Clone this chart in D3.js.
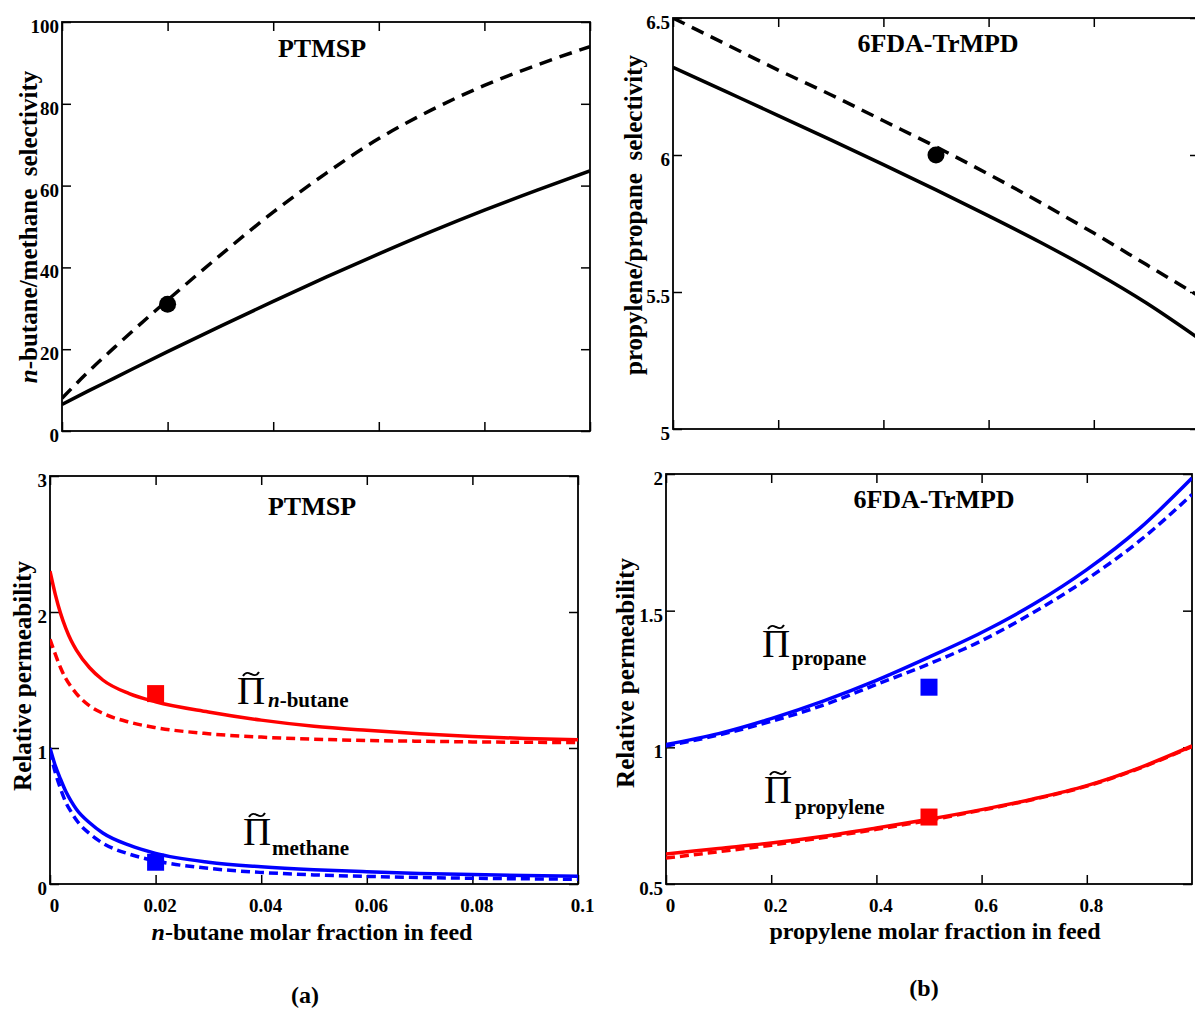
<!DOCTYPE html>
<html>
<head>
<meta charset="utf-8">
<script src="https://cdn.jsdelivr.net/npm/d3@7"></script>
<style>
  body { margin: 0; background: #fff; }
  svg { display: block; font-family: "Liberation Serif", "Times New Roman", serif; font-weight: bold; }
</style>
</head>
<body>
<div id="chart"></div>
<script>
// (a) top: n-butane/methane selectivity in PTMSP
var butFracSel = [0, 0.005, 0.01, 0.02, 0.03, 0.04, 0.05, 0.06, 0.07, 0.08, 0.09, 0.1];
var butSelDashed = [8, 14.5, 20.5, 32, 43, 53.5, 63, 71.5, 78.5, 84.5, 89.5, 94];
var butSelSolid = [6.5, 9.8, 13.0, 19.4, 25.6, 31.7, 37.6, 43.3, 48.8, 54.0, 58.9, 63.6];
var butSelExpX = [0.02];
var butSelExpY = [31];

// (b) top: propylene/propane selectivity in 6FDA-TrMPD
var propFracSel = [0, 0.1, 0.2, 0.3, 0.4, 0.5, 0.6, 0.7, 0.8, 0.9, 1.0];
var propSelDashed = [6.5, 6.405, 6.31, 6.22, 6.125, 6.03, 5.93, 5.825, 5.715, 5.6, 5.485];
var propSelSolid = [6.32, 6.232, 6.144, 6.055, 5.965, 5.873, 5.778, 5.68, 5.575, 5.46, 5.33];
var propSelExpX = [0.5];
var propSelExpY = [6.0];

// (a) bottom: relative permeability in PTMSP
var butFrac = [0, 0.001, 0.002, 0.003, 0.004, 0.005, 0.0075, 0.01, 0.015, 0.02, 0.03, 0.04, 0.05, 0.06, 0.07, 0.08, 0.09, 0.1];
var butPermSolid = [2.3, 2.13, 1.99, 1.88, 1.79, 1.72, 1.59, 1.5, 1.4, 1.34, 1.265, 1.205, 1.16, 1.13, 1.105, 1.085, 1.07, 1.06];
var butPermDashed = [1.8, 1.69, 1.59, 1.51, 1.45, 1.4, 1.31, 1.255, 1.19, 1.15, 1.105, 1.08, 1.065, 1.055, 1.05, 1.045, 1.042, 1.04];
var methPermSolid = [1.0, 0.87, 0.77, 0.68, 0.61, 0.55, 0.45, 0.375, 0.285, 0.225, 0.16, 0.127, 0.105, 0.09, 0.078, 0.069, 0.062, 0.057];
var methPermDashed = [0.98, 0.82, 0.7, 0.6, 0.53, 0.47, 0.37, 0.3, 0.22, 0.17, 0.115, 0.085, 0.067, 0.056, 0.048, 0.042, 0.038, 0.035];
var butPermExpX = [0.02];
var butPermExpRed = [1.40];
var butPermExpBlue = [0.16];

// (b) bottom: relative permeability in 6FDA-TrMPD
var propFrac = [0, 0.1, 0.2, 0.3, 0.4, 0.5, 0.6, 0.7, 0.8, 0.9, 1.0];
var propanePermSolid = [1.01, 1.05, 1.105, 1.17, 1.245, 1.33, 1.42, 1.525, 1.65, 1.8, 1.985];
var propanePermDashed = [1.005, 1.045, 1.095, 1.155, 1.23, 1.305, 1.39, 1.495, 1.615, 1.755, 1.925];
var propylenePermSolid = [0.61, 0.63, 0.65, 0.675, 0.705, 0.737, 0.772, 0.812, 0.86, 0.925, 1.005];
var propylenePermDashed = [0.595, 0.618, 0.642, 0.67, 0.7, 0.733, 0.77, 0.81, 0.858, 0.923, 1.003];
var propPermExpX = [0.5];
var propPermExpPropane = [1.22];
var propPermExpPropylene = [0.745];

// tick values / labels
var butTicks = [0, 0.02, 0.04, 0.06, 0.08, 0.1];
var propTicks = [0, 0.2, 0.4, 0.6, 0.8];
var butSelTicks = [0, 20, 40, 60, 80, 100];
var propSelTicks = [5, 5.5, 6, 6.5];
var butPermTicks = [0, 1, 2, 3];
var propPermTicks = [0.5, 1, 1.5, 2];

var RED = '#ff0000';
var BLUE = '#0000ff';

var svg = d3.select('#chart')
            .append('svg')
            .attr('width', 1195)
            .attr('height', 1010);

var line = function (x, y) {
  return d3.line()
           .x(function (d) { return x(d[0]); })
           .y(function (d) { return y(d[1]); })
           .curve(d3.curveMonotoneX);
};

function plainAxis(g) {
  g.select('.domain').remove();
  g.selectAll('line').attr('stroke', '#000').attr('stroke-width', 1.5);
  g.attr('font-family', null).attr('font-size', 19);
  g.selectAll('text').attr('fill', '#000');
}

function drawPanel(p) {
  var x = d3.scaleLinear().domain(p.xDomain).range([p.left, p.right]);
  var y = d3.scaleLinear().domain(p.yDomain).range([p.bottom, p.top]);
  var tick = 9;

  svg.append('clipPath').attr('id', 'clip-' + p.id)
     .append('rect')
       .attr('x', p.left).attr('y', p.top)
       .attr('width', p.right - p.left).attr('height', p.bottom - p.top);

  // inward ticks on all four sides
  var bottomAxis = svg.append('g')
     .attr('transform', 'translate(0,' + p.bottom + ')')
     .call(d3.axisBottom(x).tickValues(p.xTicks).tickSizeInner(-tick).tickSizeOuter(0).tickPadding(15)
             .tickFormat(p.xLabels ? function (d) { return String(d); } : ''))
     .call(plainAxis);
  bottomAxis.selectAll('text').attr('dx', 4);

  svg.append('g')
     .attr('transform', 'translate(0,' + p.top + ')')
     .call(d3.axisTop(x).tickValues(p.xTicks).tickSizeInner(-tick).tickSizeOuter(0).tickFormat(''))
     .call(plainAxis);

  svg.append('g')
     .attr('transform', 'translate(' + p.left + ',0)')
     .call(d3.axisLeft(y).tickValues(p.yTicks).tickSizeInner(-tick).tickSizeOuter(0).tickPadding(3)
             .tickFormat(function (d) { return String(d); }))
     .call(plainAxis)
     .selectAll('text').attr('dy', '0.55em');

  svg.append('g')
     .attr('transform', 'translate(' + p.right + ',0)')
     .call(d3.axisRight(y).tickValues(p.yTicks).tickSizeInner(-tick).tickSizeOuter(0).tickFormat(''))
     .call(plainAxis);

  // frame
  svg.append('rect')
     .attr('x', p.left).attr('y', p.top)
     .attr('width', p.right - p.left).attr('height', p.bottom - p.top)
     .attr('fill', 'none').attr('stroke', '#000').attr('stroke-width', 1.8);

  // curves
  var plot = svg.append('g').attr('clip-path', 'url(#clip-' + p.id + ')');
  p.series.forEach(function (s) {
    plot.append('path')
        .datum(d3.zip(s.xs, s.ys))
        .attr('d', line(x, y))
        .attr('fill', 'none')
        .attr('stroke', s.color)
        .attr('stroke-width', 3.5)
        .attr('stroke-dasharray', s.dash || null);
  });

  // experimental points
  p.points.forEach(function (s) {
    var pts = d3.zip(s.xs, s.ys);
    if (s.shape === 'circle') {
      svg.selectAll(null).data(pts).enter().append('circle')
         .attr('cx', function (d) { return x(d[0]); })
         .attr('cy', function (d) { return y(d[1]); })
         .attr('r', 8.5)
         .attr('fill', s.color);
    } else {
      svg.selectAll(null).data(pts).enter().append('rect')
         .attr('x', function (d) { return x(d[0]) - 8.5; })
         .attr('y', function (d) { return y(d[1]) - 8.5; })
         .attr('width', 17).attr('height', 17)
         .attr('fill', s.color);
    }
  });

  // panel title
  svg.append('text')
     .attr('x', p.titleX).attr('y', p.titleY)
     .attr('text-anchor', 'middle')
     .attr('font-size', 26)
     .text(p.title);

  // y axis title
  var yt = svg.append('text')
     .attr('text-anchor', 'middle')
     .attr('font-size', 25)
     .attr('transform', 'translate(' + p.yTitleX + ',' + p.yTitleY + ')rotate(-90)');
  p.yTitle.forEach(function (t) {
    yt.append('tspan').attr('font-style', t.italic ? 'italic' : null).text(t.text);
  });

  // x axis title
  if (p.xTitle) {
    var xt = svg.append('text')
       .attr('x', p.xTitleX).attr('y', p.xTitleY)
       .attr('text-anchor', 'middle')
       .attr('font-size', 24);
    p.xTitle.forEach(function (t) {
      xt.append('tspan').attr('font-style', t.italic ? 'italic' : null).text(t.text);
    });
  }

  // Pi-tilde curve labels: the tilde is drawn as a small wave above the Pi
  (p.piLabels || []).forEach(function (l) {
    svg.append('text')
       .attr('x', l.cx).attr('y', l.by)
       .attr('text-anchor', 'middle')
       .attr('font-weight', 'normal')
       .attr('font-size', 39)
       .text('\u03A0');
    var ty = l.by - 30;
    var tp = d3.path();
    tp.moveTo(l.cx - 8, ty + 2);
    tp.bezierCurveTo(l.cx - 5, ty - 3, l.cx - 2, ty - 1, l.cx, ty);
    tp.bezierCurveTo(l.cx + 2, ty + 1, l.cx + 5, ty + 3, l.cx + 8, ty - 2);
    svg.append('path')
       .attr('d', tp.toString())
       .attr('fill', 'none')
       .attr('stroke', '#000')
       .attr('stroke-width', 2);
    var sub = svg.append('text')
       .attr('x', l.sx).attr('y', l.sy)
       .attr('font-size', 21);
    l.sub.forEach(function (t) {
      sub.append('tspan').attr('font-style', t.italic ? 'italic' : null).text(t.text);
    });
  });
}

drawPanel({
  id: 'at', left: 62, right: 590, top: 22, bottom: 431,
  xDomain: [0, 0.1], yDomain: [0, 100],
  xTicks: butTicks, yTicks: butSelTicks, xLabels: false,
  series: [
    { xs: butFracSel, ys: butSelDashed, color: '#000', dash: '13,8' },
    { xs: butFracSel, ys: butSelSolid, color: '#000' }
  ],
  points: [{ xs: butSelExpX, ys: butSelExpY, color: '#000', shape: 'circle' }],
  title: 'PTMSP', titleX: 322, titleY: 57,
  yTitle: [{ text: 'n', italic: true }, { text: '-butane/methane\u00A0\u00A0selectivity' }],
  yTitleX: 37, yTitleY: 227
});

drawPanel({
  id: 'bt', left: 673, right: 1199, top: 18, bottom: 429,
  xDomain: [0, 1], yDomain: [5, 6.5],
  xTicks: propTicks, yTicks: propSelTicks, xLabels: false,
  series: [
    { xs: propFracSel, ys: propSelDashed, color: '#000', dash: '13,8' },
    { xs: propFracSel, ys: propSelSolid, color: '#000' }
  ],
  points: [{ xs: propSelExpX, ys: propSelExpY, color: '#000', shape: 'circle' }],
  title: '6FDA-TrMPD', titleX: 938, titleY: 52,
  yTitle: [{ text: 'propylene/propane\u00A0\u00A0selectivity' }],
  yTitleX: 642, yTitleY: 215
});

drawPanel({
  id: 'ab', left: 50, right: 578, top: 476, bottom: 884,
  xDomain: [0, 0.1], yDomain: [0, 3],
  xTicks: butTicks, yTicks: butPermTicks, xLabels: true,
  series: [
    { xs: butFrac, ys: butPermDashed, color: RED, dash: '9,5' },
    { xs: butFrac, ys: butPermSolid, color: RED },
    { xs: butFrac, ys: methPermDashed, color: BLUE, dash: '9,5' },
    { xs: butFrac, ys: methPermSolid, color: BLUE }
  ],
  points: [
    { xs: butPermExpX, ys: butPermExpRed, color: RED, shape: 'square' },
    { xs: butPermExpX, ys: butPermExpBlue, color: BLUE, shape: 'square' }
  ],
  title: 'PTMSP', titleX: 312, titleY: 515,
  yTitle: [{ text: 'Relative permeability' }],
  yTitleX: 31, yTitleY: 676,
  xTitle: [{ text: 'n', italic: true }, { text: '-butane molar fraction in feed' }],
  xTitleX: 312, xTitleY: 940,
  piLabels: [
    { cx: 251, by: 704, sx: 268, sy: 707, sub: [{ text: 'n', italic: true }, { text: '-butane' }] },
    { cx: 257, by: 845, sx: 272, sy: 855, sub: [{ text: 'methane' }] }
  ]
});

drawPanel({
  id: 'bb', left: 666, right: 1192, top: 474, bottom: 884,
  xDomain: [0, 1], yDomain: [0.5, 2],
  xTicks: propTicks, yTicks: propPermTicks, xLabels: true,
  series: [
    { xs: propFrac, ys: propanePermDashed, color: BLUE, dash: '9,5' },
    { xs: propFrac, ys: propanePermSolid, color: BLUE },
    { xs: propFrac, ys: propylenePermDashed, color: RED, dash: '9,5' },
    { xs: propFrac, ys: propylenePermSolid, color: RED }
  ],
  points: [
    { xs: propPermExpX, ys: propPermExpPropane, color: BLUE, shape: 'square' },
    { xs: propPermExpX, ys: propPermExpPropylene, color: RED, shape: 'square' }
  ],
  title: '6FDA-TrMPD', titleX: 934, titleY: 508,
  yTitle: [{ text: 'Relative permeability' }],
  yTitleX: 634, yTitleY: 673,
  xTitle: [{ text: 'propylene molar fraction in feed' }],
  xTitleX: 935, xTitleY: 939,
  piLabels: [
    { cx: 776, by: 657, sx: 792, sy: 665, sub: [{ text: 'propane' }] },
    { cx: 778, by: 803, sx: 795, sy: 814, sub: [{ text: 'propylene' }] }
  ]
});

// sub-figure captions
svg.append('text').attr('x', 305).attr('y', 1003).attr('text-anchor', 'middle').attr('font-size', 24).text('(a)');
svg.append('text').attr('x', 924).attr('y', 996).attr('text-anchor', 'middle').attr('font-size', 24).text('(b)');
</script>
</body>
</html>
